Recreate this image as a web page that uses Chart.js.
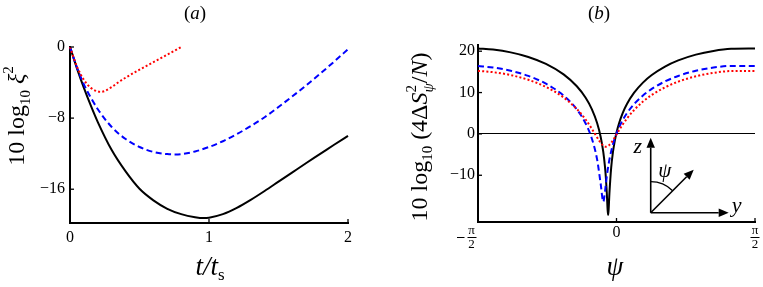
<!DOCTYPE html>
<html><head><meta charset="utf-8">
<script src="https://cdn.jsdelivr.net/npm/chart.js@4/dist/chart.umd.min.js"></script>
<style>
html,body{margin:0;padding:0;background:#fff;width:763px;height:287px;overflow:hidden}
canvas{position:absolute;top:0}
#ca{left:0}
#cb{left:380px}
</style></head><body>
<canvas id="ca" width="380" height="287"></canvas>
<canvas id="cb" width="383" height="287"></canvas>
<script>
// ---------- Panel (a) data ----------
const tBlack = [0,0.05,0.1,0.15,0.2,0.3,0.4,0.5,0.6,0.7,0.8,0.9,0.96,1.0,1.1,1.2,1.3,1.4,1.5,1.6,1.7,1.8,1.9,2.0];
const blackA = [0,-2.4,-4.6,-6.6,-8.45,-11.6,-14.0,-15.95,-17.25,-18.2,-18.8,-19.15,-19.25,-19.2,-18.8,-18.1,-17.2,-16.2,-15.15,-14.1,-13.05,-12.03,-11.0,-10.0];
const tBlue = [0,0.05,0.1,0.15,0.2,0.3,0.4,0.5,0.6,0.7,0.75,0.8,0.9,1.0,1.1,1.2,1.3,1.4,1.5,1.6,1.7,1.8,1.9,2.0];
const blueA = [0,-2.3,-4.2,-5.7,-7.0,-9.0,-10.35,-11.25,-11.8,-12.05,-12.08,-12.05,-11.75,-11.25,-10.6,-9.8,-8.9,-7.9,-6.75,-5.55,-4.3,-3.0,-1.65,-0.25];
const tRed = [0,0.05,0.1,0.15,0.2,0.22,0.25,0.3,0.35,0.4,0.5,0.6,0.7,0.8];
const redA = [0,-2.2,-3.7,-4.6,-5.0,-5.05,-4.95,-4.5,-3.95,-3.45,-2.55,-1.7,-0.85,0];
const xTicksA = [0,1,2];
const yTicksA = [0,-8,-16];

// ---------- Panel (b) data ----------
const psi = [-1.5708,-1.4,-1.2,-1.0,-0.8,-0.6,-0.45,-0.35,-0.28,-0.22,-0.18,-0.15,-0.13,-0.12,-0.11,-0.1,-0.095,-0.09,-0.08,-0.06,-0.04,-0.02,0,0.03,0.07,0.12,0.2,0.3,0.4,0.55,0.7,0.9,1.1,1.3,1.5708];
const blackB = [20.66,20.39,19.72,18.61,16.93,14.39,11.52,8.74,6.00,2.64,-0.67,-4.36,-8.10,-10.74,-14.27,-18.56,-19.59,-18.56,-14.27,-8.10,-4.36,-1.73,0.29,2.64,5.03,7.29,9.97,12.41,14.23,16.28,17.77,19.17,20.07,20.57,20.66];
const blueB = [16.41,16.05,15.27,14.02,12.14,9.28,5.94,2.52,-1.11,-6.17,-11.99,-16.38,-13.89,-11.99,-10.24,-8.71,-8.01,-7.36,-6.17,-4.16,-2.50,-1.11,0.09,1.63,3.33,5.06,7.23,9.28,10.88,12.69,14.02,15.27,16.05,16.44,16.41];
const redB = [15.24,14.93,14.23,13.08,11.37,8.81,6.02,3.48,1.26,-0.85,-2.15,-2.84,-3.07,-3.10,-3.07,-2.98,-2.92,-2.84,-2.65,-2.15,-1.53,-0.85,-0.14,0.92,2.26,3.76,5.79,7.81,9.41,11.26,12.64,13.93,14.76,15.20,15.24];
const xTicksB = [-Math.PI/2, 0, Math.PI/2];
const xTickLabelsB = [['π    ','2    '], '0', ['π','2']];
const yTicksB = [20,10,0,-10];

// ---------- Texts ----------
const panelLabels = ['a','b'];
const SERIF = "Liberation Serif, serif";

function pts(xs, ys){ return xs.map((x,i)=>({x:x, y:ys[i]})); }

function drawRich(ctx, segs, x, y, rot){
  ctx.save();
  ctx.translate(x,y); ctx.rotate(rot);
  const fontOf = s => (s.it?'italic ':'') + s.size + 'px ' + SERIF;
  const ws = segs.map(s => { ctx.font = fontOf(s); return ctx.measureText(s.t).width; });
  let total = 0, kept = 0;
  segs.forEach((s,i)=>{ if (s.keep){ kept = ws[i]; } else { total += Math.max(kept, ws[i]); kept = 0; } });
  let cx = -total/2; kept = 0;
  ctx.fillStyle = '#000'; ctx.textAlign = 'left'; ctx.textBaseline = 'alphabetic';
  segs.forEach((s,i)=>{
    ctx.font = fontOf(s);
    ctx.fillText(s.t, cx, s.dy||0);
    if (s.keep){ kept = ws[i]; } else { cx += Math.max(kept, ws[i]); kept = 0; }
  });
  ctx.restore();
}

function arrow(ctx, x0, y0, x1, y1){
  const ang = Math.atan2(y1-y0, x1-x0), L = 10, W = 4.2;
  const bx = x1 - L*Math.cos(ang), by = y1 - L*Math.sin(ang);
  ctx.beginPath(); ctx.moveTo(x0,y0); ctx.lineTo(bx,by); ctx.stroke();
  ctx.beginPath(); ctx.moveTo(x1,y1);
  ctx.lineTo(bx + W*Math.sin(ang), by - W*Math.cos(ang));
  ctx.lineTo(bx - W*Math.sin(ang), by + W*Math.cos(ang));
  ctx.closePath(); ctx.fill();
}

const extras = {
  id: 'extras',
  afterDraw(chart, args, o){
    const ctx = chart.ctx, a = chart.chartArea, xs = chart.scales.x, ys = chart.scales.y;
    ctx.save();
    ctx.strokeStyle = '#000'; ctx.fillStyle = '#000'; ctx.lineWidth = 1.3;
    xs.ticks.forEach(t => { const p = xs.getPixelForValue(t.value); if (Math.abs(p - a.left) < 2) return;
      ctx.beginPath(); ctx.moveTo(p, a.bottom); ctx.lineTo(p, a.bottom - 4); ctx.stroke(); });
    ys.ticks.forEach(t => { const p = ys.getPixelForValue(t.value); if (Math.abs(p - a.bottom) < 2) return;
      ctx.beginPath(); ctx.moveTo(a.left, p); ctx.lineTo(a.left + 4, p); ctx.stroke(); });
    drawRich(ctx, [{t:'(',size:19},{t:o.label,size:19,it:true},{t:')',size:19}], o.labelX, 19, 0);
    drawRich(ctx, o.yTitle, o.yTitleX, o.yTitleY, -Math.PI/2);
    drawRich(ctx, o.xTitle, o.xTitleX, o.xTitleY, 0);
    if (o.fractions){
      ctx.lineWidth = 1;
      xs.ticks.forEach((t,i) => {
        if (t.value === 0) return;
        const p = xs.getPixelForValue(t.value);
        const c = t.value < 0 ? p - 6 : p;
        const yb = a.bottom + 15.5;
        ctx.beginPath(); ctx.moveTo(c-4.5, yb); ctx.lineTo(c+4.5, yb); ctx.stroke();
        if (t.value < 0){ ctx.beginPath(); ctx.moveTo(c-15, yb); ctx.lineTo(c-7.5, yb); ctx.stroke(); }
      });
    }
    if (o.inset){
      const ox = xs.getPixelForValue(o.inset[0]), oy = ys.getPixelForValue(o.inset[1]);
      ctx.lineWidth = 1.6;
      arrow(ctx, ox, oy, ox, oy - 75);
      arrow(ctx, ox, oy, ox + 78, oy);
      arrow(ctx, ox, oy, ox + 43, oy - 43);
      ctx.lineWidth = 1.3;
      ctx.beginPath(); ctx.arc(ox, oy, 31, -Math.PI/2, -Math.PI/4); ctx.stroke();
      drawRich(ctx, [{t:'z', size:22, it:true}], ox - 13, oy - 60, 0);
      drawRich(ctx, [{t:'y', size:22, it:true}], ox + 86, oy - 1, 0);
      drawRich(ctx, [{t:'ψ', size:21, it:true}], ox + 14, oy - 36, 0);
    }
    ctx.restore();
  }
};

const tickFont = {family: SERIF, size: 16};

function lineDs(data, color, dash){
  return {data: data, borderColor: color, borderWidth: 2, borderDash: dash, pointRadius: 0,
          cubicInterpolationMode: 'monotone', fill: false, clip: 6, borderCapStyle: 'butt'};
}

new Chart(document.getElementById('ca'), {
  type: 'line',
  data: { datasets: [
    lineDs(pts(tRed, redA), '#ff0000', [2,2.2]),
    lineDs(pts(tBlue, blueA), '#0000ff', [6,3.5]),
    lineDs(pts(tBlack, blackA), '#000000', [])
  ]},
  options: {
    responsive: false, animation: false, devicePixelRatio: 1,
    layout: { padding: { left: 0, right: 32, top: 47, bottom: 0 } },
    plugins: { legend: {display: false}, tooltip: {enabled: false},
      extras: { label: panelLabels[0], labelX: 195,
        yTitle: [{t:'10 log',size:24},{t:'10',size:15,dy:6},{t:' ξ',size:24,it:true},{t:'2',size:15,dy:-11}],
        yTitleX: 24, yTitleY: 116,
        xTitle: [{t:'t/t',size:27,it:true},{t:'s',size:17,dy:5}],
        xTitleX: 210, xTitleY: 275 } },
    scales: {
      x: { type: 'linear', min: 0, max: 2,
        afterFit: s => { s.height = 64; },
        afterBuildTicks: s => { s.ticks = xTicksA.map(v => ({value: v})); },
        grid: { display: false, drawTicks: false },
        border: { display: true, color: '#000', width: 2 },
        ticks: { font: tickFont, color: '#000', padding: 5, maxRotation: 0, autoSkip: false } },
      y: { type: 'linear', min: -19.8, max: 0,
        afterFit: s => { s.width = 70; },
        afterBuildTicks: s => { s.ticks = yTicksA.map(v => ({value: v})); },
        grid: { display: false, drawTicks: false },
        border: { display: true, color: '#000', width: 2 },
        ticks: { font: tickFont, color: '#000', padding: 5, autoSkip: false,
          callback: v => (v < 0 ? '−' + Math.abs(v) : String(v)) } }
    }
  },
  plugins: [extras]
});

new Chart(document.getElementById('cb'), {
  type: 'line',
  data: { datasets: [
    lineDs(pts(psi, redB), '#ff0000', [2,2.2]),
    lineDs(pts(psi, blueB), '#0000ff', [6,3.5]),
    lineDs(pts(psi, blackB), '#000000', [])
  ]},
  options: {
    responsive: false, animation: false, devicePixelRatio: 1,
    layout: { padding: { left: 0, right: 8, top: 45, bottom: 0 } },
    plugins: { legend: {display: false}, tooltip: {enabled: false},
      extras: { label: panelLabels[1], labelX: 219, fractions: true, inset: [0.388, -19.05],
        yTitle: [{t:'10 log',size:24},{t:'10',size:15,dy:5},{t:' (4Δ',size:24},{t:'S',size:24,it:true},
                 {t:'2',size:15,dy:-11,keep:true},{t:'ψ',size:15,dy:6,it:true},{t:'/',size:24},{t:'N',size:24,it:true},{t:')',size:24}],
        yTitleX: 47, yTitleY: 137,
        xTitle: [{t:'ψ',size:27,it:true}],
        xTitleX: 235, xTitleY: 275 } },
    scales: {
      x: { type: 'linear', min: -Math.PI/2, max: Math.PI/2,
        afterFit: s => { s.height = 65; },
        afterBuildTicks: s => { s.ticks = xTicksB.map(v => ({value: v})); },
        grid: { display: false, drawTicks: false },
        border: { display: true, color: '#000', width: 2 },
        ticks: { color: '#000', padding: 1, maxRotation: 0, autoSkip: false,
          font: c => (c.tick && c.tick.value !== 0) ? {family: SERIF, size: 13, lineHeight: 1.1} : {family: SERIF, size: 16},
          callback: (v, i) => xTickLabelsB[i] } },
      y: { type: 'linear', min: -21.3, max: 21.5,
        afterFit: s => { s.width = 98; },
        afterBuildTicks: s => { s.ticks = yTicksB.map(v => ({value: v})); },
        grid: { display: true, drawOnChartArea: true, drawTicks: false, lineWidth: 1,
          color: c => (c.tick && c.tick.value === 0) ? '#000' : 'rgba(0,0,0,0)' },
        border: { display: true, color: '#000', width: 2 },
        ticks: { font: tickFont, color: '#000', padding: 3, autoSkip: false,
          callback: v => (v < 0 ? '−' + Math.abs(v) : String(v)) } }
    }
  },
  plugins: [extras]
});
</script>
</body></html>
